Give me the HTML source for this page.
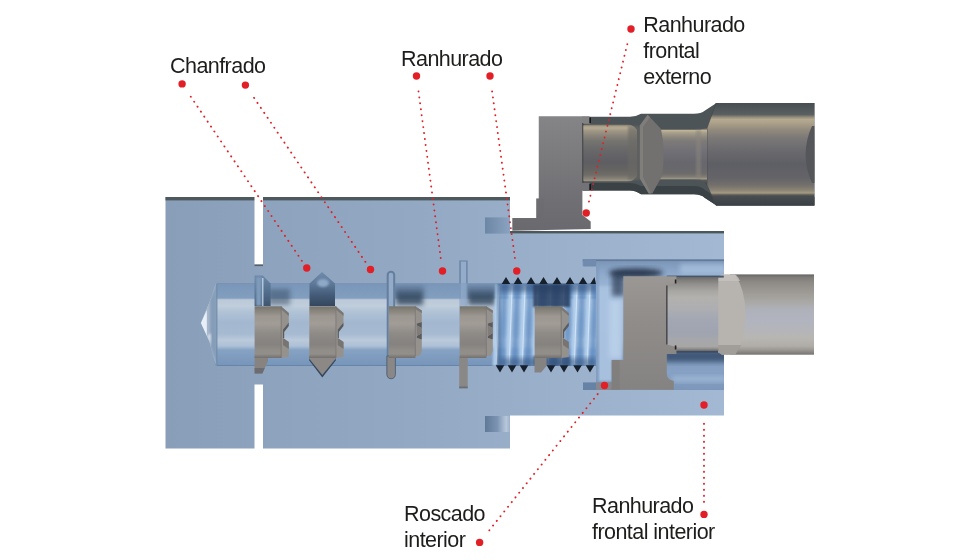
<!DOCTYPE html>
<html lang="es"><head><meta charset="utf-8"><title>Ranhurado</title>
<style>
html,body{margin:0;padding:0;background:#fff;width:980px;height:560px;overflow:hidden}
svg{display:block}
text{font-family:"Liberation Sans",Arial,sans-serif;fill:#1d1d1b;font-size:21.5px;letter-spacing:-0.55px}
</style></head><body>
<svg width="980" height="560" viewBox="0 0 980 560">
<defs>
<linearGradient id="gBody" x1="165" x2="724" y1="0" y2="0" gradientUnits="userSpaceOnUse"><stop offset="0" stop-color="#899eb8"/><stop offset=".2" stop-color="#8ea3be"/><stop offset=".45" stop-color="#93a8c3"/><stop offset=".7" stop-color="#9bb0ca"/><stop offset="1" stop-color="#a3b8d2"/></linearGradient>
<linearGradient id="gBore" x1="0" x2="0" y1="283" y2="366" gradientUnits="userSpaceOnUse"><stop offset="0.000" stop-color="#5f7c9f"/><stop offset="0.018" stop-color="#7a97ba"/><stop offset="0.181" stop-color="#819ebf"/><stop offset="0.202" stop-color="#bbc9d8"/><stop offset="0.277" stop-color="#c0cedc"/><stop offset="0.349" stop-color="#b0c2d6"/><stop offset="0.470" stop-color="#a3b8d0"/><stop offset="0.614" stop-color="#a6bad1"/><stop offset="0.687" stop-color="#bbcadb"/><stop offset="0.759" stop-color="#adc0d6"/><stop offset="0.807" stop-color="#86a2c3"/><stop offset="0.892" stop-color="#7f9cbf"/><stop offset="0.982" stop-color="#7896b9"/><stop offset="1.000" stop-color="#5f7c9f"/></linearGradient>
<linearGradient id="gCav" x1="0" x2="0" y1="259" y2="390" gradientUnits="userSpaceOnUse"><stop offset="0.000" stop-color="#6a83a3"/><stop offset="0.023" stop-color="#7d97b8"/><stop offset="0.069" stop-color="#86a1c3"/><stop offset="0.130" stop-color="#90abcc"/><stop offset="0.313" stop-color="#a3bddc"/><stop offset="0.618" stop-color="#9ab5d5"/><stop offset="0.740" stop-color="#7f9abc"/><stop offset="0.863" stop-color="#86a1c3"/><stop offset="1.000" stop-color="#7c97b9"/></linearGradient>
<linearGradient id="gIns" x1="0" x2="0" y1="306.3" y2="358" gradientUnits="userSpaceOnUse"><stop offset="0.000" stop-color="#76736f"/><stop offset="0.072" stop-color="#858279"/><stop offset="0.188" stop-color="#9c9791"/><stop offset="0.342" stop-color="#a19c96"/><stop offset="0.516" stop-color="#8f8b87"/><stop offset="0.729" stop-color="#85827f"/><stop offset="0.845" stop-color="#908c88"/><stop offset="0.923" stop-color="#928e8a"/><stop offset="1.000" stop-color="#726f6d"/></linearGradient>
<linearGradient id="gHead" x1="0" x2="0" y1="276" y2="390" gradientUnits="userSpaceOnUse">
<stop offset="0" stop-color="#9a9794"/><stop offset=".4" stop-color="#8f8c8a"/><stop offset="1" stop-color="#858381"/>
</linearGradient>
<linearGradient id="gBar" x1="0" x2="0" y1="274.4" y2="354.7" gradientUnits="userSpaceOnUse"><stop offset="0.000" stop-color="#656462"/><stop offset="0.032" stop-color="#7c7a77"/><stop offset="0.095" stop-color="#8d8a85"/><stop offset="0.219" stop-color="#9d9a95"/><stop offset="0.331" stop-color="#a9a7a3"/><stop offset="0.431" stop-color="#afb1b9"/><stop offset="0.568" stop-color="#b1b4bf"/><stop offset="0.692" stop-color="#b4b5ba"/><stop offset="0.792" stop-color="#b8b6b2"/><stop offset="0.892" stop-color="#b0ada8"/><stop offset="0.941" stop-color="#9b9893"/><stop offset="1.000" stop-color="#757371"/></linearGradient>
<linearGradient id="gFront" x1="0" x2="0" y1="277" y2="351" gradientUnits="userSpaceOnUse"><stop offset="0.000" stop-color="#6a6866"/><stop offset="0.041" stop-color="#7f7d7b"/><stop offset="0.101" stop-color="#93918e"/><stop offset="0.189" stop-color="#a8a6a3"/><stop offset="0.277" stop-color="#b3b1ae"/><stop offset="0.432" stop-color="#adaeb2"/><stop offset="0.581" stop-color="#a2a7b3"/><stop offset="0.757" stop-color="#9fa4b0"/><stop offset="0.851" stop-color="#a6a7ab"/><stop offset="0.939" stop-color="#a8a7a6"/><stop offset="0.973" stop-color="#8c8b8a"/><stop offset="1.000" stop-color="#676665"/></linearGradient>
<linearGradient id="gGr" x1="485" x2="510" y1="0" y2="0" gradientUnits="userSpaceOnUse"><stop offset="0" stop-color="#5f7997"/><stop offset=".5" stop-color="#7d95b2"/><stop offset=".85" stop-color="#b8c8db"/><stop offset="1" stop-color="#9db0c8"/></linearGradient>
<linearGradient id="gGr2" x1="485" x2="510" y1="0" y2="0" gradientUnits="userSpaceOnUse"><stop offset="0" stop-color="#6c86a5"/><stop offset="1" stop-color="#8ba3c0"/></linearGradient>
<linearGradient id="gV" x1="0" x2="0" y1="272" y2="306" gradientUnits="userSpaceOnUse"><stop offset="0" stop-color="#6f8aab"/><stop offset=".35" stop-color="#5d7898"/><stop offset=".7" stop-color="#435a76"/><stop offset="1" stop-color="#34475e"/></linearGradient>
<linearGradient id="gC1" x1="0" x2="0" y1="275" y2="306" gradientUnits="userSpaceOnUse"><stop offset="0" stop-color="#6d88a9"/><stop offset=".5" stop-color="#54708f"/><stop offset="1" stop-color="#3f566f"/></linearGradient>
<linearGradient id="gTool" x1="0" x2="0" y1="103" y2="205.4" gradientUnits="userSpaceOnUse"><stop offset="0.000" stop-color="#474e52"/><stop offset="0.049" stop-color="#4f5659"/><stop offset="0.112" stop-color="#5a5f60"/><stop offset="0.142" stop-color="#9a917e"/><stop offset="0.161" stop-color="#b5aa90"/><stop offset="0.195" stop-color="#aca18a"/><stop offset="0.264" stop-color="#91897c"/><stop offset="0.342" stop-color="#7b7877"/><stop offset="0.459" stop-color="#6b6a6e"/><stop offset="0.596" stop-color="#5e5f65"/><stop offset="0.732" stop-color="#646368"/><stop offset="0.801" stop-color="#736f6b"/><stop offset="0.850" stop-color="#8a8375"/><stop offset="0.879" stop-color="#a59b83"/><stop offset="0.894" stop-color="#6a675f"/><stop offset="0.908" stop-color="#474d50"/><stop offset="1.000" stop-color="#3a4043"/></linearGradient>
<linearGradient id="gNeck" x1="0" x2="0" y1="124.5" y2="181.5" gradientUnits="userSpaceOnUse"><stop offset="0.000" stop-color="#6f6b62"/><stop offset="0.026" stop-color="#a59b86"/><stop offset="0.061" stop-color="#b5aa92"/><stop offset="0.114" stop-color="#9f9685"/><stop offset="0.202" stop-color="#88837a"/><stop offset="0.289" stop-color="#76746f"/><stop offset="0.447" stop-color="#68686a"/><stop offset="0.658" stop-color="#5e5e63"/><stop offset="0.798" stop-color="#656462"/><stop offset="0.886" stop-color="#706d68"/><stop offset="0.956" stop-color="#8a8579"/><stop offset="0.991" stop-color="#9c9786"/><stop offset="1.000" stop-color="#77736a"/></linearGradient>
<linearGradient id="gNeck2" x1="0" x2="0" y1="128" y2="185" gradientUnits="userSpaceOnUse"><stop offset="0.000" stop-color="#565b5c"/><stop offset="0.026" stop-color="#8d8676"/><stop offset="0.044" stop-color="#c0b497"/><stop offset="0.088" stop-color="#a59d8a"/><stop offset="0.158" stop-color="#8e897f"/><stop offset="0.228" stop-color="#7d7a78"/><stop offset="0.386" stop-color="#727177"/><stop offset="0.596" stop-color="#67676d"/><stop offset="0.737" stop-color="#69686b"/><stop offset="0.807" stop-color="#6f6d6b"/><stop offset="0.860" stop-color="#817d75"/><stop offset="0.895" stop-color="#a39d8a"/><stop offset="0.912" stop-color="#5a5b58"/><stop offset="1.000" stop-color="#3f4649"/></linearGradient>
<linearGradient id="gUIns" x1="0" x2="0" y1="116" y2="230" gradientUnits="userSpaceOnUse">
<stop offset="0" stop-color="#858486"/><stop offset=".35" stop-color="#7b7a7d"/><stop offset=".7" stop-color="#717074"/><stop offset="1" stop-color="#6a6a6e"/>
</linearGradient>
<filter id="b1" x="-20%" y="-20%" width="140%" height="140%"><feGaussianBlur stdDeviation="0.8"/></filter>
<filter id="b2" x="-30%" y="-30%" width="160%" height="160%"><feGaussianBlur stdDeviation="2.5"/></filter>
<filter id="b4" x="-40%" y="-40%" width="180%" height="180%"><feGaussianBlur stdDeviation="4"/></filter>
<clipPath id="cBore"><path d="M200.8 323L209.6 302L215 285Q215.5 283.4 217 283.4H596V366H217Q215.5 366 215 364L209.6 342Z"/></clipPath>
<clipPath id="cCav"><path d="M582.5 259.5H724V390H583V382.5H596V266H582.5Z"/></clipPath>
</defs>

<!-- BODY -->
<g id="body">
<path d="M165.5 197H510V231H724V415.5H510V448.5H165.5Z" fill="url(#gBody)"/>
<rect x="165.5" y="197" width="344.5" height="3.4" fill="#4e595e"/>
<rect x="510" y="231" width="214" height="2.4" fill="#4c575b"/>
<rect x="254.5" y="196" width="8.5" height="68.5" fill="#fff"/>
<rect x="254.5" y="264.5" width="8.5" height="1.6" fill="#55606a"/>
<rect x="254.5" y="384.5" width="8.5" height="65" fill="#fff"/>
<!-- face grooves -->
<rect x="485" y="217.4" width="25" height="16.2" fill="url(#gGr2)"/>
<rect x="485" y="416" width="25" height="16" fill="url(#gGr)"/>
</g>

<!-- RIGHT CAVITY -->
<g id="cavity">
<path d="M582.5 259.5H724V390H583V382.5H596V266H582.5Z" fill="url(#gCav)"/>
<g clip-path="url(#cCav)">
<rect x="583" y="258.9" width="141" height="2" fill="#5f7796" opacity=".9"/>
<path d="M598 286H622V360H612V381H598Z" fill="#a9c2e0" opacity=".95" filter="url(#b1)"/>
<rect x="609" y="300" width="12" height="58" fill="#c0d4ec" opacity=".7" filter="url(#b2)"/>
<rect x="596" y="266" width="2.6" height="117" fill="#7f9cc0" opacity=".9" filter="url(#b1)"/>
<ellipse cx="636" cy="273" rx="27" ry="4.6" fill="#222f43" opacity=".9" filter="url(#b2)"/>
<rect x="612" y="272" width="12" height="24" fill="#2c3b52" opacity=".7" filter="url(#b2)"/>
<rect x="680" y="264" width="46" height="10" fill="#adc5e2" opacity=".7" filter="url(#b2)"/>
<rect x="664" y="350" width="64" height="12" fill="#3c5575" opacity=".95" filter="url(#b2)"/>
<rect x="672" y="376" width="54" height="6" fill="#a3bcda" opacity=".8" filter="url(#b2)"/>
</g>
<rect x="583" y="382.5" width="13" height="7.5" fill="#6683a6"/>
<rect x="583.3" y="259.5" width="12.8" height="7" fill="#708bad"/>
<rect x="596" y="382.3" width="17" height="7.7" fill="#87878f"/>
</g>

<!-- BORE -->
<g id="bore">
<path d="M200.8 323L209.6 302L215 285Q215.5 283.4 217 283.4H596V366H217Q215.5 366 215 364L209.6 342Z" fill="url(#gBore)"/>
<g clip-path="url(#cBore)">
<!-- left end cone -->
<path d="M199 323L216.5 280V366Z" fill="#a7b8cc"/>
<path d="M210 300L216.5 284V364L210 345Z" fill="#7e96b3" opacity=".8" filter="url(#b1)"/>
<path d="M200.8 323L206.8 310V336Z" fill="#e9eff6"/>
<path d="M207 336L211 333V346Z" fill="#dfe8f2" opacity=".8" filter="url(#b1)"/>
<rect x="215.8" y="284" width="1.6" height="81" fill="#6c87a8" opacity=".7"/>
<!-- dark reflections above inserts -->
<g fill="#34485f" filter="url(#b2)" opacity=".85">
<rect x="268" y="289" width="22" height="16" opacity=".6"/>
<rect x="396" y="292" width="27" height="13"/><rect x="394" y="286" width="30" height="10" opacity=".45"/>
<rect x="468" y="292" width="27" height="13"/><rect x="466" y="286" width="30" height="10" opacity=".45"/>
</g>
<!-- thread zone -->
<rect x="499" y="283" width="97" height="83" fill="#74a0d4" opacity=".55"/>
<g fill="none" stroke="#5584bd" stroke-width="3.5" opacity=".5" filter="url(#b1)"><path d="M504.5 284L501.5 366"/><path d="M517.5 284L514.5 366"/><path d="M530.5 284L527.5 366"/><path d="M543.5 284L540.5 366"/><path d="M556.5 284L553.5 366"/><path d="M569.5 284L566.5 366"/><path d="M582.5 284L579.5 366"/><path d="M595.5 284L592.5 366"/></g>
<g fill="none" stroke="#b4d0ee" stroke-width="4.6" opacity=".95" filter="url(#b1)"><path d="M498.0 284L495.0 366"/><path d="M511.0 284L508.0 366"/><path d="M524.0 284L521.0 366"/><path d="M537.0 284L534.0 366"/><path d="M550.0 284L547.0 366"/><path d="M563.0 284L560.0 366"/><path d="M576.0 284L573.0 366"/><path d="M589.0 284L586.0 366"/></g>
<g fill="none" stroke="#dbe9f8" stroke-width="1.1" opacity=".8"><path d="M499.1 286L496.3 364"/><path d="M512.1 286L509.3 364"/><path d="M525.1 286L522.3 364"/><path d="M538.1 286L535.3 364"/><path d="M551.1 286L548.3 364"/><path d="M564.1 286L561.3 364"/><path d="M577.1 286L574.3 364"/><path d="M590.1 286L587.3 364"/></g>
<rect x="499" y="282" width="97" height="10" fill="#2c4a74" opacity=".55" filter="url(#b2)"/>
<rect x="499" y="358" width="97" height="9" fill="#2c4a74" opacity=".5" filter="url(#b2)"/>
<rect x="533" y="284" width="37" height="23" fill="#263d5e" opacity=".85" filter="url(#b1)"/>
<rect x="533" y="356" width="37" height="10" fill="#2f4a70" opacity=".6" filter="url(#b1)"/>
<rect x="497.5" y="283" width="3" height="83" fill="#3a5a86" opacity=".6" filter="url(#b1)"/>
</g>
<!-- wide ring groove -->
<rect x="459.2" y="260.4" width="8.5" height="23" fill="#6f89a9"/><rect x="459.2" y="283.4" width="8.5" height="82.6" fill="#7f99b9" opacity=".45"/>
<rect x="460.9" y="261.6" width="5.2" height="21.8" fill="#94acc9"/><rect x="460.9" y="283.4" width="5.6" height="22" fill="#93aece" opacity=".6"/>
<rect x="459.2" y="356" width="8.5" height="32.2" fill="#8a8886"/><rect x="459.2" y="386.5" width="8.5" height="1.8" fill="#6b6f78"/>
<!-- thin ring groove -->
<rect x="386.7" y="270.7" width="8.5" height="108.3" rx="4.2" fill="#647e9e"/>
<rect x="388.7" y="272.7" width="4.5" height="84" rx="2.2" fill="#93abc8"/>
<path d="M386.9 356H395.4V374.5a4.2 4.2 0 0 1-8.5 0Z" fill="#8a8886" stroke="#4a5a70" stroke-width=".8"/>
<!-- chamfer groove 1 -->
<path d="M254.6 306V275.5H262.8L270.6 283.4V306Z" fill="url(#gC1)"/>
<rect x="256" y="277" width="5.5" height="29" fill="#7f9bbb" filter="url(#b1)"/>
<rect x="262.2" y="278" width="1.2" height="28" fill="#c5d6ea"/>
<path d="M254.6 356H268V361L262.3 373.4H254.6Z" fill="#868381"/><path d="M254.6 368H264.8L262.3 373.4H254.6Z" fill="#6c6d72"/>
<!-- chamfer V groove 2 -->
<path d="M309.5 306V283.4L322 272L335 283.4V306Z" fill="url(#gV)"/>
<ellipse cx="323" cy="283" rx="6" ry="4" fill="#8ea8c7" filter="url(#b1)"/>
<path d="M309.3 356V360.5L322.3 377.6L335.7 360.5V356Z" fill="#33465c"/>
<path d="M309.3 356V358.8L322.3 375L335.7 358.8V356Z" fill="#8b8885"/>
<!-- thread teeth -->
<g fill="#15202c">
<path d="M501.7 284L506 277L510.3 284Z M513.7 284L518 277L522.3 284Z M526.7 284L531 277L535.3 284Z M539.2 284L543.5 277L547.8 284Z M552.7 284L557 277L561.3 284Z M565.7 284L570 277L574.3 284Z M578.7 284L583 277L587.3 284Z M590.2 284L594.5 277L596.0 284Z "/>
<path d="M495.7 365.3L500 372.5L504.3 365.3Z M507.7 365.3L512 372.5L516.3 365.3Z M519.7 365.3L524 372.5L528.3 365.3Z M546.7 365.3L551 372.5L555.3 365.3Z M559.7 365.3L564 372.5L568.3 365.3Z M573.2 365.3L577.5 372.5L581.8 365.3Z M585.7 365.3L590 372.5L594.3 365.3Z "/>
</g>
<path d="M534.5 356H546.5V366L541 372.5H534.5Z" fill="#858381"/>
</g>

<!-- INSERTS -->
<g id="inserts">
<g id="insA">
<path d="M281 306.3L288.8 313V322.5L283 329.5V338L288.8 342V357L281 358Z" fill="#95918d"/>
<path d="M283 329.5L288.8 322.5V326L284.2 332V338H283Z" fill="#5c5b5a"/>
<path d="M283 338L288.8 342V349L283 345Z" fill="#777471"/>
<path d="M281 306.3L288.8 313V316L281 309.3Z" fill="#7a7774"/>
<rect x="254.6" y="306.3" width="26.6" height="51.7" fill="url(#gIns)"/>
<rect x="280.6" y="306.3" width="1.2" height="51.7" fill="#75726f" opacity=".6"/>
</g>
<g transform="translate(54.7 0)"><g>
<path d="M281 306.3L288.8 313V322.5L283 329.5V338L288.8 342V357L281 358Z" fill="#95918d"/>
<path d="M283 329.5L288.8 322.5V326L284.2 332V338H283Z" fill="#5c5b5a"/>
<path d="M283 338L288.8 342V349L283 345Z" fill="#777471"/>
<path d="M281 306.3L288.8 313V316L281 309.3Z" fill="#7a7774"/>
<rect x="254.6" y="306.3" width="26.6" height="51.7" fill="url(#gIns)"/>
<rect x="280.6" y="306.3" width="1.2" height="51.7" fill="#75726f" opacity=".6"/>
</g></g>
<g id="insB" transform="translate(134.2 0)">
<path d="M281 306.3L287.6 310.4V322L282.6 323.4V325.4L287.6 328V333L282.6 336V338L287.6 339.4V351L285.4 356H281Z" fill="#95918d"/>
<path d="M282.6 323.4L287.6 322V328L282.6 325.4Z M282.6 336L287.6 333V339.4L282.6 338Z" fill="#5c5b5a"/>
<path d="M282.6 325.4L287.6 328V333L282.6 336Z" fill="#7f7c79"/>
<path d="M281 306.3L287.6 310.4V313L281 309Z" fill="#7a7774"/>
<rect x="254.6" y="306.3" width="26.6" height="51.7" fill="url(#gIns)"/>
<rect x="280.6" y="306.3" width="1.2" height="50" fill="#75726f" opacity=".6"/>
</g>
<g transform="translate(71 0)"><g transform="translate(134.2 0)">
<path d="M281 306.3L287.6 310.4V322L282.6 323.4V325.4L287.6 328V333L282.6 336V338L287.6 339.4V351L285.4 356H281Z" fill="#95918d"/>
<path d="M282.6 323.4L287.6 322V328L282.6 325.4Z M282.6 336L287.6 333V339.4L282.6 338Z" fill="#5c5b5a"/>
<path d="M282.6 325.4L287.6 328V333L282.6 336Z" fill="#7f7c79"/>
<path d="M281 306.3L287.6 310.4V313L281 309Z" fill="#7a7774"/>
<rect x="254.6" y="306.3" width="26.6" height="51.7" fill="url(#gIns)"/>
<rect x="280.6" y="306.3" width="1.2" height="50" fill="#75726f" opacity=".6"/>
</g></g>
<g transform="translate(280 0)"><g>
<path d="M281 306.3L288.8 313V322.5L283 329.5V338L288.8 342V357L281 358Z" fill="#95918d"/>
<path d="M283 329.5L288.8 322.5V326L284.2 332V338H283Z" fill="#5c5b5a"/>
<path d="M283 338L288.8 342V349L283 345Z" fill="#777471"/>
<path d="M281 306.3L288.8 313V316L281 309.3Z" fill="#7a7774"/>
<rect x="254.6" y="306.3" width="26.6" height="51.7" fill="url(#gIns)"/>
<rect x="280.6" y="306.3" width="1.2" height="51.7" fill="#75726f" opacity=".6"/>
</g></g>
</g>

<!-- LOWER BAR -->
<g id="lowerbar">
<rect x="730" y="274.4" width="84" height="80.3" fill="url(#gBar)"/>
<path d="M717.8 277L722 274.4H735Q745.5 290 745.5 314.5Q745.5 339 735 354.7H722L717.8 352Z" fill="#b7b4b0"/>
<path d="M717.8 277L722 274.4H735Q738 276 740 281H717.8Z" fill="#c6c3bf" opacity=".8"/>
<path d="M717.8 352L722 354.7H735Q739 350 741 345H717.8Z" fill="#9b9895" opacity=".8"/>
<rect x="666.8" y="275.6" width="57" height="2" fill="#364458" opacity=".85"/><rect x="666.8" y="277" width="51.5" height="74" fill="url(#gFront)"/><rect x="672" y="351" width="46" height="1.6" fill="#34445a" opacity=".8"/>
<path d="M623.3 276.2H676.4V283L666.8 285.5V344.4L676.4 347V354H666.8V374Q667 379.5 673.8 381V389.8H611.7V360H623.3Z" fill="url(#gHead)"/>
<rect x="666.2" y="285.5" width="1.3" height="59" fill="#3a3b3d"/>
<rect x="674.8" y="279.5" width="1.6" height="4" fill="#1f2022"/><rect x="674.8" y="345.5" width="1.6" height="4" fill="#1f2022"/>
<rect x="611.7" y="360" width="8" height="29.8" fill="#7c7b7a" opacity=".6"/>
</g>

<!-- UPPER TOOL -->
<g id="uppertool">
<!-- outer dark sleeve -->
<path d="M582.5 116.7H630Q636 116.7 641 113.7H694Q701 113.7 705 110.5L716.5 103.1H814.4V205.4H716.5L705 198Q701 194.3 694 194.3H641Q636 190.4 630 190.4H582.5Z" fill="#4d5457"/>
<path d="M582.5 183H630Q636 183 641 186H694Q701 186 705 190L716.5 197H814.4V205.4H716.5L705 198Q701 194.3 694 194.3H641Q636 190.4 630 190.4H582.5Z" fill="#3b4245"/>
<!-- big body -->
<path d="M716 103.1H814.4V205.4H716L707 185V128Z" fill="url(#gTool)"/>
<path d="M716 103.1L707 128V185L716 205.4" fill="none" stroke="#3f4548" stroke-width="1" opacity=".6"/>
<!-- flat -->
<path d="M814.4 126H812Q805.6 140 805.6 154.5Q805.6 169 812 183H814.4Z" fill="#54565a"/>
<!-- segment a shiny -->
<path d="M583 126Q583 124.5 586 124.5H628Q634 125 637 130V176Q634 181 628 181.5H586Q583 181.5 583 180Z" fill="url(#gNeck)"/>
<rect x="628" y="126" width="12" height="54" fill="#6c6a66" opacity=".6" filter="url(#b1)"/>
<!-- neck shiny -->
<path d="M660 129.5H700L707 128V185L700 179.6H660Z" fill="url(#gNeck2)"/>
<rect x="696" y="130" width="5" height="49" fill="#8a867e" opacity=".55" filter="url(#b1)"/>
<!-- collar -->
<path d="M639.8 125.5L647.6 114.8L661 129Q666 151 662 176L652.3 193.4H648.7L639.8 178.6Z" fill="#727170"/>
<path d="M639.8 125.5L647.6 114.8L650 117L643 127V177L651 193.4H648.7L639.8 178.6Z" fill="#8a8883" opacity=".55"/>
<!-- insert -->
<path d="M538.75 116.25H582.4V215L590.7 221.4V229L512.3 230.7V217.9H536.4V198.6H538.75Z" fill="url(#gUIns)"/>
<rect x="536" y="198.7" width="8" height="31.3" fill="#6b6b6f" opacity=".5"/>
<rect x="582" y="116.25" width="7.6" height="7.6" fill="#828183"/><rect x="582" y="182.8" width="7.6" height="7.6" fill="#737276"/><rect x="589.4" y="117.5" width="1.6" height="5.5" fill="#15181a"/><rect x="589.4" y="184" width="1.6" height="6" fill="#15181a"/>
<rect x="582" y="123" width="1.3" height="60" fill="#3a3d40" opacity=".8"/>
</g>

<!-- LABELS -->
<g id="labels" opacity="0.999">
<text x="170" y="72.6">Chanfrado</text>
<text x="401" y="66">Ranhurado</text>
<text x="643.3" y="32">Ranhurado</text>
<text x="643.3" y="58">frontal</text>
<text x="643.3" y="84">externo</text>
<text x="404" y="520.5">Roscado</text>
<text x="404" y="546.5">interior</text>
<text x="592" y="513">Ranhurado</text>
<text x="592" y="538.5">frontal interior</text>
</g>
<g id="lines">
<circle cx="182.1" cy="83.9" r="3.7" fill="#e21f26"/><circle cx="306.75" cy="268" r="3.7" fill="#e21f26"/><line x1="190.8" y1="96.7" x2="302.5" y2="261.8" stroke="#e21f26" stroke-width="1.9" stroke-linecap="round" stroke-dasharray="0.1 5.9"/>
<circle cx="245.4" cy="85.1" r="3.7" fill="#e21f26"/><circle cx="370.5" cy="269.5" r="3.7" fill="#e21f26"/><line x1="254.1" y1="97.9" x2="366.3" y2="263.3" stroke="#e21f26" stroke-width="1.9" stroke-linecap="round" stroke-dasharray="0.1 5.9"/>
<circle cx="416.5" cy="76" r="3.7" fill="#e21f26"/><circle cx="442.5" cy="271" r="3.7" fill="#e21f26"/><line x1="418.5" y1="91.4" x2="441.5" y2="263.6" stroke="#e21f26" stroke-width="1.9" stroke-linecap="round" stroke-dasharray="0.1 5.9"/>
<circle cx="490" cy="76" r="3.7" fill="#e21f26"/><circle cx="516.75" cy="271" r="3.7" fill="#e21f26"/><line x1="492.1" y1="91.4" x2="515.7" y2="263.6" stroke="#e21f26" stroke-width="1.9" stroke-linecap="round" stroke-dasharray="0.1 5.9"/>
<circle cx="631" cy="29" r="3.7" fill="#e21f26"/><circle cx="586.25" cy="213" r="3.7" fill="#e21f26"/><line x1="627.3" y1="44.1" x2="588.0" y2="205.7" stroke="#e21f26" stroke-width="1.9" stroke-linecap="round" stroke-dasharray="0.1 5.9"/>
<circle cx="479.6" cy="542.4" r="3.7" fill="#e21f26"/><circle cx="604.5" cy="385.5" r="3.7" fill="#e21f26"/><line x1="489.3" y1="530.3" x2="599.8" y2="391.4" stroke="#e21f26" stroke-width="1.9" stroke-linecap="round" stroke-dasharray="0.1 5.9"/>
<circle cx="704" cy="514.4" r="3.7" fill="#e21f26"/><circle cx="704" cy="405" r="3.7" fill="#e21f26"/><line x1="704.0" y1="501.9" x2="704.0" y2="421.0" stroke="#e21f26" stroke-width="1.9" stroke-linecap="round" stroke-dasharray="0.1 5.9"/>

</g>
</svg>
</body></html>
